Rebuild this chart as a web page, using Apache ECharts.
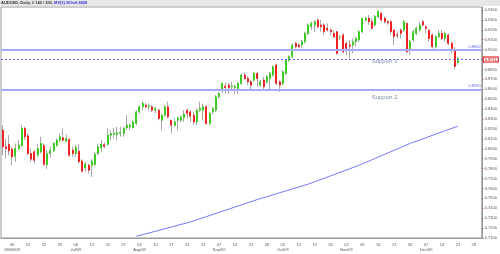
<!DOCTYPE html>
<html>
<head>
<meta charset="utf-8">
<script src="https://cdn.jsdelivr.net/npm/echarts@6/dist/echarts.min.js"></script>
<style>
  html, body { margin: 0; padding: 0; background: #fff; }
  #main { width: 500px; height: 254px; }
</style>
</head>
<body>
<div id="main"></div>
<script>
// daily AUDUSD bars (Jun 3 .. Dec 21 2009)
var opens = [
  0.8188,0.8020,0.8043,0.7996,0.7925,0.8003,0.8030,0.8205,0.8131,0.7952,
  0.7969,0.7935,0.7969,0.8030,0.7841,0.7952,0.7979,0.8036,0.8087,0.8111,
  0.8077,0.8094,0.7986,0.7952,0.7976,0.7875,0.7807,0.7834,0.7834,0.7841,
  0.7952,0.8009,0.8040,0.8043,0.8137,0.8144,0.8144,0.8154,0.8154,0.8212,
  0.8221,0.8214,0.8255,0.8372,0.8423,0.8440,0.8423,0.8423,0.8389,0.8389,
  0.8288,0.8339,0.8423,0.8288,0.8238,0.8288,0.8288,0.8315,0.8389,0.8372,
  0.8339,0.8271,0.8389,0.8389,0.8423,0.8255,0.8372,0.8389,0.8524,0.8592,
  0.8632,0.8642,0.8625,0.8618,0.8608,0.8659,0.8743,0.8709,0.8676,0.8692,
  0.8760,0.8642,0.8692,0.8676,0.8709,0.8743,0.8844,0.8676,0.8659,0.8760,
  0.8894,0.8928,0.9063,0.9046,0.9046,0.9080,0.9164,0.9231,0.9248,0.9299,
  0.9248,0.9248,0.9215,0.9198,0.9164,0.9181,0.9120,0.9147,0.9063,0.9046,
  0.9046,0.9080,0.9097,0.9181,0.9299,0.9316,0.9282,0.9248,0.9333,0.9366,
  0.9316,0.9282,0.9282,0.9198,0.9150,0.9198,0.9198,0.9265,0.9012,0.9097,
  0.9164,0.9198,0.9282,0.9231,0.9198,0.9147,0.9029,0.9130,0.9164,0.9113,
  0.9147,0.9063,0.8996,0.8870
];
var closes = [
  0.8020,0.8003,0.7979,0.7918,0.8003,0.8036,0.8205,0.8121,0.7952,0.7895,
  0.7885,0.8003,0.8053,0.7841,0.7952,0.7986,0.8053,0.8087,0.8121,0.8087,
  0.8104,0.7935,0.7952,0.8013,0.7868,0.7774,0.7848,0.7784,0.7875,0.7945,
  0.8020,0.8046,0.8023,0.8137,0.8154,0.8158,0.8161,0.8164,0.8205,0.8239,
  0.8238,0.8271,0.8372,0.8423,0.8457,0.8423,0.8433,0.8389,0.8406,0.8305,
  0.8339,0.8423,0.8322,0.8238,0.8271,0.8312,0.8322,0.8349,0.8356,0.8329,
  0.8271,0.8389,0.8406,0.8423,0.8255,0.8356,0.8406,0.8524,0.8558,0.8659,
  0.8618,0.8618,0.8632,0.8625,0.8659,0.8743,0.8709,0.8676,0.8642,0.8760,
  0.8709,0.8676,0.8625,0.8726,0.8760,0.8827,0.8659,0.8642,0.8777,0.8894,
  0.8928,0.9046,0.9029,0.9029,0.9080,0.9164,0.9248,0.9265,0.9282,0.9231,
  0.9231,0.9181,0.9198,0.9181,0.9130,0.8962,0.9125,0.8979,0.9012,0.9035,
  0.9080,0.9113,0.9181,0.9316,0.9316,0.9282,0.9215,0.9333,0.9383,0.9299,
  0.9282,0.9270,0.9181,0.9130,0.9145,0.9164,0.9282,0.8979,0.9080,0.9181,
  0.9215,0.9248,0.9248,0.9215,0.9113,0.9029,0.9130,0.9164,0.9113,0.9164,
  0.9063,0.9012,0.8830,0.8911
];
var lows = [
  0.7935,0.7902,0.7935,0.7834,0.7868,0.7986,0.8020,0.8087,0.7935,0.7868,
  0.7851,0.7918,0.7952,0.7827,0.7794,0.7918,0.7969,0.8020,0.8063,0.8070,
  0.8063,0.7918,0.7918,0.7918,0.7851,0.7760,0.7774,0.7750,0.7716,0.7827,
  0.7935,0.7969,0.8003,0.8036,0.8087,0.8104,0.8087,0.8121,0.8121,0.8188,
  0.8187,0.8204,0.8238,0.8356,0.8389,0.8406,0.8389,0.8372,0.8356,0.8288,
  0.8187,0.8322,0.8305,0.8153,0.8221,0.8187,0.8271,0.8271,0.8305,0.8271,
  0.8238,0.8238,0.8372,0.8288,0.8238,0.8238,0.8349,0.8372,0.8507,0.8558,
  0.8558,0.8551,0.8592,0.8551,0.8558,0.8642,0.8693,0.8642,0.8592,0.8676,
  0.8625,0.8625,0.8591,0.8659,0.8591,0.8726,0.8642,0.8574,0.8642,0.8743,
  0.8878,0.8911,0.9012,0.9012,0.9012,0.9063,0.9147,0.9198,0.9181,0.9215,
  0.9181,0.9147,0.9181,0.9147,0.9113,0.8950,0.9097,0.8962,0.8945,0.8911,
  0.8962,0.9029,0.9080,0.9164,0.9282,0.9248,0.9198,0.9231,0.9316,0.9282,
  0.9265,0.9248,0.9147,0.9046,0.9113,0.9113,0.9181,0.8962,0.8945,0.9080,
  0.9147,0.9181,0.9231,0.9164,0.9080,0.9012,0.9012,0.9113,0.9097,0.9080,
  0.9046,0.8962,0.8800,0.8844
];
var highs = [
  0.8239,0.8104,0.8137,0.8020,0.8053,0.8087,0.8239,0.8222,0.8154,0.8003,
  0.7986,0.8053,0.8121,0.8053,0.7986,0.8020,0.8070,0.8104,0.8154,0.8205,
  0.8144,0.8104,0.8020,0.8036,0.8043,0.7895,0.7868,0.7851,0.7895,0.7969,
  0.8053,0.8087,0.8063,0.8205,0.8188,0.8212,0.8222,0.8222,0.8222,0.8340,
  0.8255,0.8288,0.8389,0.8433,0.8474,0.8463,0.8457,0.8440,0.8423,0.8406,
  0.8356,0.8440,0.8474,0.8288,0.8305,0.8322,0.8329,0.8389,0.8406,0.8389,
  0.8372,0.8406,0.8474,0.8457,0.8440,0.8372,0.8423,0.8541,0.8574,0.8669,
  0.8666,0.8666,0.8676,0.8642,0.8676,0.8760,0.8768,0.8733,0.8693,0.8777,
  0.8777,0.8692,0.8726,0.8743,0.8777,0.8844,0.8861,0.8692,0.8793,0.8911,
  0.8945,0.9063,0.9080,0.9063,0.9097,0.9181,0.9265,0.9282,0.9299,0.9316,
  0.9299,0.9265,0.9265,0.9215,0.9198,0.9188,0.9147,0.9164,0.9080,0.9097,
  0.9113,0.9130,0.9198,0.9316,0.9333,0.9349,0.9316,0.9349,0.9400,0.9383,
  0.9333,0.9299,0.9299,0.9198,0.9181,0.9215,0.9299,0.9265,0.9097,0.9198,
  0.9231,0.9282,0.9299,0.9248,0.9198,0.9164,0.9147,0.9198,0.9198,0.9181,
  0.9164,0.9080,0.9029,0.8928
];

// 200-day moving average, read at a few bar positions
var maIndex = [42, 59, 80, 96, 112, 128, 143];
var maValues = [0.7117, 0.7262, 0.7488, 0.7643, 0.7834, 0.8054, 0.8228];

var supportLevels = [0.8962, 0.8590];
var supportNames = ['Support 1', 'Support 2'];
var supportTextAt = [[120, 0.8878], [120, 0.8518]];
var lastPrice = 0.8911;

var monthMarks = {
  '2009-06-08': '08/06/09', '2009-07-06': 'Jul/09', '2009-08-03': 'Aug/09',
  '2009-09-07': 'Sep/09', '2009-10-05': 'Oct/09', '2009-11-02': 'Nov/09',
  '2009-12-07': 'Dec/09'
};

var FONT = 'Liberation Sans';

// weekday categories Jun 3 .. Dec 30 2009
var days = [];
var dt = new Date(Date.UTC(2009, 5, 3));
var endDt = Date.UTC(2009, 11, 30);
while (dt.getTime() <= endDt) {
  var wd = dt.getUTCDay();
  if (wd !== 0 && wd !== 6) days.push(dt.toISOString().slice(0, 10));
  dt = new Date(dt.getTime() + 86400000);
}
function isMonday(i, v) { return new Date(v + 'T00:00:00Z').getUTCDay() === 1; }

var wickData = [], bodyData = [];
for (var i = 0; i < opens.length; i++) {
  wickData.push([opens[i], closes[i], lows[i], highs[i]]);
  bodyData.push([opens[i], closes[i], Math.min(opens[i], closes[i]), Math.max(opens[i], closes[i])]);
}
var maData = maIndex.map(function (k, j) { return [days[k], maValues[j]]; });

var chart = echarts.init(document.getElementById('main'));
chart.setOption({
  animation: false,
  backgroundColor: '#fff',
  title: {
    text: '{a|AUDUSD, Daily, # 143 / 300, }{b|MV(1) 200=0.8228}',
    left: 1, top: 1, padding: 0, z: 20,
    textStyle: {
      rich: {
        a: { fontSize: 4, color: '#333', fontFamily: FONT },
        b: { fontSize: 4, color: '#3030e0', fontFamily: FONT }
      }
    }
  },
  graphic: [{
    type: 'rect', left: 0, top: 0, z: 10,
    shape: { width: 500, height: 6 },
    style: { fill: '#e6e6e6' }
  }],
  grid: { left: 1, right: 16, top: 7, bottom: 16, show: true, borderColor: '#999', borderWidth: 1, backgroundColor: '#fff' },
  xAxis: {
    type: 'category',
    data: days,
    boundaryGap: true,
    axisLine: { lineStyle: { color: '#999' } },
    axisTick: { interval: isMonday, alignWithLabel: true, length: 2, lineStyle: { color: '#e08080' } },
    axisLabel: {
      interval: isMonday, margin: 4, fontSize: 4, lineHeight: 5, color: '#555',
      fontFamily: FONT,
      formatter: function (v) {
        var s = v.slice(8, 10);
        if (monthMarks[v]) s += '\n' + monthMarks[v];
        return s;
      }
    },
    splitLine: { show: false }
  },
  yAxis: {
    type: 'value', position: 'right', scale: true,
    min: 0.71, max: 0.943, interval: 0.01,
    axisLine: { show: true, lineStyle: { color: '#999' } },
    axisTick: { show: true, length: 2, lineStyle: { color: '#c08080' } },
    axisLabel: {
      margin: 3, fontSize: 4, color: '#555', fontFamily: FONT, showMaxLabel: false,
      formatter: function (v) { return v.toFixed(4); }
    },
    splitLine: { show: false }
  },
  series: [
    {
      name: 'wick', type: 'candlestick', data: wickData, barWidth: 0.5,
      itemStyle: { color: '#a8a8a8', color0: '#a8a8a8', borderColor: '#a8a8a8', borderColor0: '#a8a8a8', borderWidth: 1 },
      markLine: {
        symbol: 'none', silent: true, animation: false,
        data: [
          { yAxis: supportLevels[0], lineStyle: { color: '#a8a8ff', width: 2, type: 'solid' },
            label: { position: 'insideEndTop', distance: 1, formatter: supportLevels[0].toFixed(4), fontSize: 4, color: '#6060e0', fontFamily: FONT } },
          { yAxis: supportLevels[1], lineStyle: { color: '#a8a8ff', width: 2, type: 'solid' },
            label: { position: 'insideEndTop', distance: 1, formatter: supportLevels[1].toFixed(4), fontSize: 4, color: '#6060e0', fontFamily: FONT } },
          { yAxis: lastPrice, lineStyle: { color: '#6a6aff', width: 1, type: [2, 2] },
            label: { position: 'end', distance: 2, formatter: lastPrice.toFixed(4), fontSize: 4, color: '#c00000',
              fontFamily: FONT, backgroundColor: '#fff', borderColor: '#e00000', borderWidth: 1, padding: [0, 1] } }
        ]
      },
      markPoint: {
        silent: true, symbol: 'circle', symbolSize: 1,
        itemStyle: { color: 'transparent' },
        label: { show: true, position: 'inside', fontSize: 6, color: '#7f8db0', fontFamily: FONT },
        data: supportNames.map(function (n, j) {
          return { coord: [days[supportTextAt[j][0]], supportTextAt[j][1]], value: n, label: { formatter: n } };
        })
      }
    },
    {
      name: 'body', type: 'candlestick', data: bodyData, barWidth: 1.5,
      itemStyle: { color: '#3ccc22', color0: '#ee2222', borderColor: '#3ccc22', borderColor0: '#ee2222', borderWidth: 1 }
    },
    {
      name: 'MV 200', type: 'line', data: maData, symbol: 'none', smooth: false,
      lineStyle: { color: '#7878ff', width: 1 }
    }
  ]
});
</script>
</body>
</html>
